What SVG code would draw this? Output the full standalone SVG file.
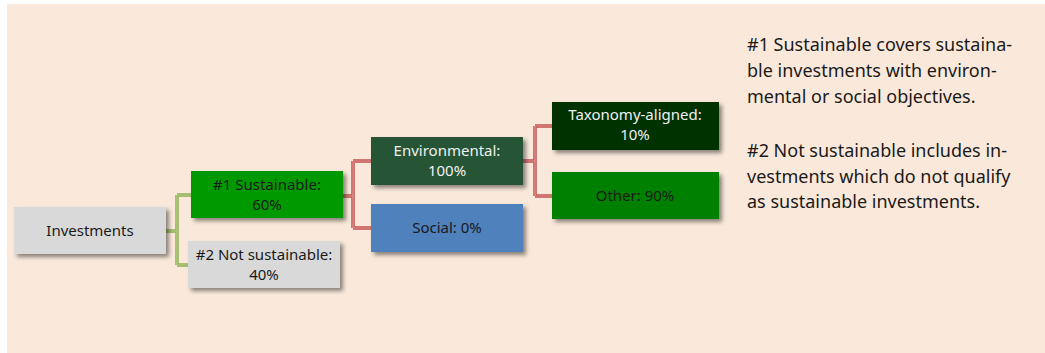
<svg xmlns="http://www.w3.org/2000/svg" width="1045" height="353" viewBox="0 0 1045 353">
<defs>
<filter id="sh" x="-10%" y="-20%" width="130%" height="160%">
<feDropShadow dx="3" dy="3" stdDeviation="2" flood-color="#000" flood-opacity="0.45"/>
</filter>
<style>
.box{filter:url(#sh)}
.t{font-family:"Noto Sans","Open Sans",sans-serif;font-size:15px;text-anchor:middle}
.dk{fill:#1a1a1a}
.lt{fill:#f0f0f0}
.note{font-family:"Noto Sans","Open Sans",sans-serif;font-size:18px;fill:#1a1a1a}
.gO{fill:none;stroke:#8fae52;stroke-width:3.5}
.gI{fill:none;stroke:#b9d08a;stroke-width:1.2}
.rO{fill:none;stroke:#c0504d;stroke-width:3.5}
.rI{fill:none;stroke:#e39a98;stroke-width:1.2}
</style>
</defs>
<rect x="0" y="0" width="1045" height="353" fill="#ffffff"/>
<rect x="7" y="4" width="1038" height="349" fill="#fae9da"/>
<g id="connectors">
<path class="gO" d="M166 231H177M177 195V265M177 195H191M177 265H188"/>
<path class="gI" d="M166 231H177M177 195V265M177 195H191M177 265H188"/>
<path class="rO" d="M343 196H353M353 161V228M353 161H371M353 228H371"/>
<path class="rI" d="M343 196H353M353 161V228M353 161H371M353 228H371"/>
<path class="rO" d="M523 161H535M535 126V196M535 126H552M535 196H552"/>
<path class="rI" d="M523 161H535M535 126V196M535 126H552M535 196H552"/>
</g>
<g id="investments">
<rect class="box" x="14" y="207" width="152" height="47" fill="#d9d9d9"/>
<text class="t dk" x="90" y="236">Investments</text>
</g>
<g id="sustainable">
<rect class="box" x="191" y="171" width="152" height="47" fill="#009900"/>
<text class="t dk" x="267" y="190">#1 Sustainable:</text>
<text class="t dk" x="267" y="210">60%</text>
</g>
<g id="not-sustainable">
<rect class="box" x="188" y="241" width="152" height="47" fill="#d9d9d9"/>
<text class="t dk" x="264" y="260">#2 Not sustainable:</text>
<text class="t dk" x="264" y="280">40%</text>
</g>
<g id="environmental">
<rect class="box" x="371" y="137" width="152" height="48" fill="#255436"/>
<text class="t lt" x="447" y="156">Environmental:</text>
<text class="t lt" x="447" y="176">100%</text>
</g>
<g id="social">
<rect class="box" x="371" y="204" width="152" height="48" fill="#4f81bd"/>
<text class="t dk" x="447" y="233">Social: 0%</text>
</g>
<g id="taxonomy">
<rect class="box" x="552" y="102" width="167" height="48" fill="#003300"/>
<text class="t lt" x="635" y="120">Taxonomy-aligned:</text>
<text class="t lt" x="635" y="140">10%</text>
</g>
<g id="other">
<rect class="box" x="552" y="172" width="167" height="47" fill="#008000"/>
<text class="t dk" x="635" y="201">Other: 90%</text>
</g>
<g id="notes">
<text class="note" x="747" y="51">#1 Sustainable covers sustaina-</text>
<text class="note" x="747" y="77">ble investments with environ-</text>
<text class="note" x="747" y="103">mental or social objectives.</text>
<text class="note" x="747" y="157">#2 Not sustainable includes in-</text>
<text class="note" x="747" y="183">vestments which do not qualify</text>
<text class="note" x="747" y="208">as sustainable investments.</text>
</g>
</svg>
